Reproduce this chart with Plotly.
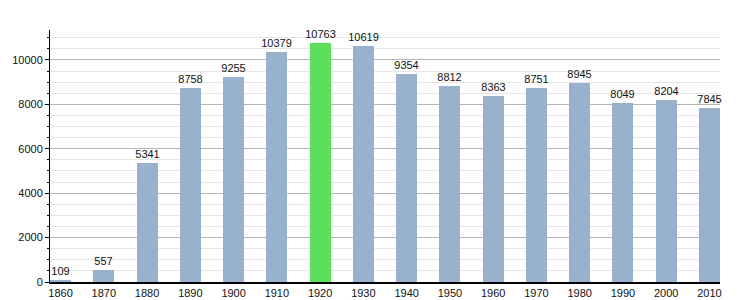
import plotly.graph_objects as go

years = [1860, 1870, 1880, 1890, 1900, 1910, 1920, 1930, 1940, 1950, 1960, 1970, 1980, 1990, 2000, 2010]
population = [109, 557, 5341, 8758, 9255, 10379, 10763, 10619, 9354, 8812, 8363, 8751, 8945, 8049, 8204, 7845]
highlight_year = 1920
base_color = "#98b1cc"
highlight_color = "#5ce05c"

colors = [highlight_color if y == highlight_year else base_color for y in years]

fig = go.Figure()
fig.add_trace(go.Bar(
    x=years, y=population, marker=dict(color=colors, line=dict(width=0)),
    width=4.85,
    text=[str(v) for v in population], textposition="outside",
    textangle=0, constraintext="none",
    textfont=dict(family="Liberation Sans, Arial", size=11, color="#111"),
    cliponaxis=False,
))

fig.update_layout(
    width=750, height=300,
    margin=dict(l=50, r=30, t=30, b=18),
    plot_bgcolor="white", paper_bgcolor="white",
    showlegend=False,
    uniformtext=dict(minsize=11, mode="show"),
    font=dict(family="Liberation Sans, Arial", size=11, color="#111"),
    xaxis=dict(
        range=[1857.55, 2012.45], tickmode="array", tickvals=years,
        ticktext=[str(y) for y in years],
        showline=True, linecolor="black", linewidth=1.5,
        ticks="", showgrid=False, zeroline=False, automargin=False,
        tickfont=dict(size=11),
    ),
    yaxis=dict(
        range=[0, 11350], dtick=2000, tick0=0, tickformat="d",
        showline=True, linecolor="black", linewidth=1,
        ticks="outside", ticklen=4, tickcolor="black",
        showgrid=True, gridcolor="#b5b5b5", gridwidth=1,
        zeroline=False, automargin=False,
        minor=dict(dtick=500, showgrid=True, gridcolor="#e6e6e6",
                   ticks="outside", ticklen=2, tickcolor="black"),
        tickfont=dict(size=11),
    ),
    bargap=0,
)

fig.write_html("out.html")
